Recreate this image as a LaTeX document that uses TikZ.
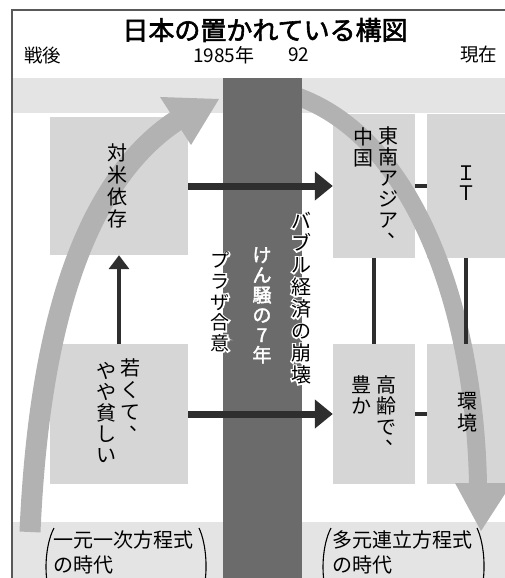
\documentclass[tikz,border=0pt]{standalone}
\usepackage{fontspec}
\setmainfont{Noto Sans CJK JP}[AutoFakeBold=2.2]
\newfontfamily\halofont{Noto Sans CJK JP}[FakeBold=14]
\usetikzlibrary{arrows.meta,calc}
\definecolor{bandgray}{HTML}{E4E4E4}
\definecolor{boxgray}{HTML}{D6D6D6}
\definecolor{darkband}{HTML}{6B6B6B}
\definecolor{curvegray}{HTML}{B2B2B2}
\definecolor{arrowdark}{HTML}{2E2E2E}
\newcommand\vcomma{\makebox[1em][l]{\hspace{0.45em}\makebox[0pt][l]{\smash{\raisebox{0.55em}{、}}}}}
\newcommand\halonode[5]{%
  \node[vt={#2}{#3}, text=white, font=\fontsize{#2}{#3}\selectfont\halofont] (#1-halo) at (#4) {#5};
  \node[vt={#2}{#3}] (#1) at (#4) {#5};}
\tikzset{
  boxn/.style={fill=boxgray, draw=none, inner sep=0pt},
  vt/.style 2 args={inner sep=0pt, align=center, anchor=north, font=\fontsize{#1}{#2}\selectfont},
  harrow/.style={draw=arrowdark, line width=7pt, -{Triangle[length=18pt,width=28pt]}},
  varrow/.style={draw=arrowdark, line width=4pt, -{Triangle[length=14pt,width=20pt]}},
  conn/.style={draw=arrowdark, line width=4.5pt},
  curvebody/.style={draw=curvegray, line width=20pt},
  paren/.style={draw=black, line width=1.1pt},
  hdr/.style={inner sep=0pt, anchor=west, font=\fontsize{18.5}{20}\selectfont},
}
\begin{document}
\begin{tikzpicture}[x=1pt,y=-1pt]
\useasboundingbox (0,0) rectangle (505,578);
\clip (0,0) rectangle (505,578);
\fill[white] (0,0) rectangle (505,578);
% background bands
\fill[bandgray] (12,78) rectangle (505,113);
\fill[bandgray] (12,522) rectangle (505,578);
% frame
\draw[gray!70!black, line width=1.1pt] (12,590) -- (12,10) -- (510,10);
% header
\node[inner sep=0pt, font=\fontsize{26}{28}\selectfont\bfseries] (title) at (265,30) {日本の置かれている構図};
\node[hdr] (sengo) at (24,55) {戦後};
\node[hdr, font=\fontsize{19}{20}\selectfont] (y85) at (193,55) {1985年};
\node[hdr, font=\fontsize{19}{20}\selectfont] (y92) at (288,55) {92};
\node[hdr] (genzai) at (460,55) {現在};
% boxes
\node[boxn, minimum width=138pt, minimum height=138pt] (b1) at (119,186) {};
\node[boxn, minimum width=138pt, minimum height=140pt] (b2) at (119,414) {};
\node[boxn, minimum width=82pt, minimum height=144pt] (b3) at (374,186) {};
\node[boxn, minimum width=78pt, minimum height=144pt] (b4) at (466,186) {};
\node[boxn, minimum width=82pt, minimum height=140pt] (b5) at (374,414) {};
\node[boxn, minimum width=78pt, minimum height=140pt] (b6) at (466,414) {};
% curved arrows
\coordinate (lc0) at (30,532);
\coordinate (lc1) at (176,121);
\draw[curvebody, line width=21pt] (lc0) .. controls (40,300) and (95,175) .. (lc1);
\fill[curvegray] (160,97) -- (219,99) -- (191,145) -- cycle;
\coordinate (rc0) at (296,96);
\coordinate (rc1) at (478,484);
\draw[curvebody, line width=18pt] (rc0) .. controls (420,140) and (475,320) .. (rc1);
\fill[curvegray] (455,483) -- (512,483) -- (481,531) -- cycle;
% central dark band
\node[fill=darkband, inner sep=0pt, minimum width=79pt, minimum height=520pt] (band) at (262.5,338) {};
% connectors
\draw[harrow] (b1.east) -- (b3.west);
\draw[harrow] (b2.east) -- (b5.west);
\draw[varrow] (b2.north) -- (b1.south);
\draw[conn] (b3.south) -- (b5.north);
\draw[conn] (b4.south) -- (b6.north);
\draw[conn] (b3.east) -- (b4.west);
\draw[conn] (b5.east) -- (b6.west);
% box texts
\node[vt={20}{22}] (t1) at (117,143) {対\\米\\依\\存};
\node[vt={20}{22}] (t2a) at (130,358) {若\\く\\て\\\vcomma};
\node[vt={20}{21}] (t2b) at (106,362) {や\\や\\貧\\し\\い};
\node[vt={20}{21}] (t3a) at (388,127) {東\\南\\ア\\ジ\\ア\\\vcomma};
\node[vt={20}{21}] (t3b) at (363,127) {中\\国};
\node[vt={20}{20}] (t4) at (466,166) {Ｉ\\Ｔ};
\node[vt={20}{21}] (t5a) at (386,375) {高\\齢\\で\\\vcomma};
\node[vt={20}{21}] (t5b) at (361,375) {豊\\か};
\node[vt={20}{22}] (t6) at (467,392) {環\\境};
% band texts
\node[vt={19}{20}, text=white, font=\fontsize{19}{20}\selectfont\bfseries] (kenso) at (262,247) {け\\ん\\騒\\の\\7\\年};
\halonode{plaza}{19}{20.6}{220,252}{プ\\ラ\\ザ\\合\\意}
\halonode{bubble}{20}{22}{301,212}{バ\\ブ\\ル\\経\\済\\の\\崩\\壊}
% bottom labels
\node[inner sep=0pt, anchor=north west, align=left, font=\fontsize{20}{25}\selectfont] (era1) at (53,530) {一元一次方程式\\の時代};
\node[inner sep=0pt, anchor=north west, align=left, font=\fontsize{20}{25}\selectfont] (era2) at (332,530) {多元連立方程式\\の時代};
\draw[paren] (54,528) .. controls (45,545) and (44,575) .. (49,590);
\draw[paren] (199,528) .. controls (207,545) and (208,575) .. (203,590);
\draw[paren] (331,528) .. controls (322,545) and (321,575) .. (326,590);
\draw[paren] (477,528) .. controls (485,545) and (486,575) .. (481,590);
\end{tikzpicture}
\end{document}
